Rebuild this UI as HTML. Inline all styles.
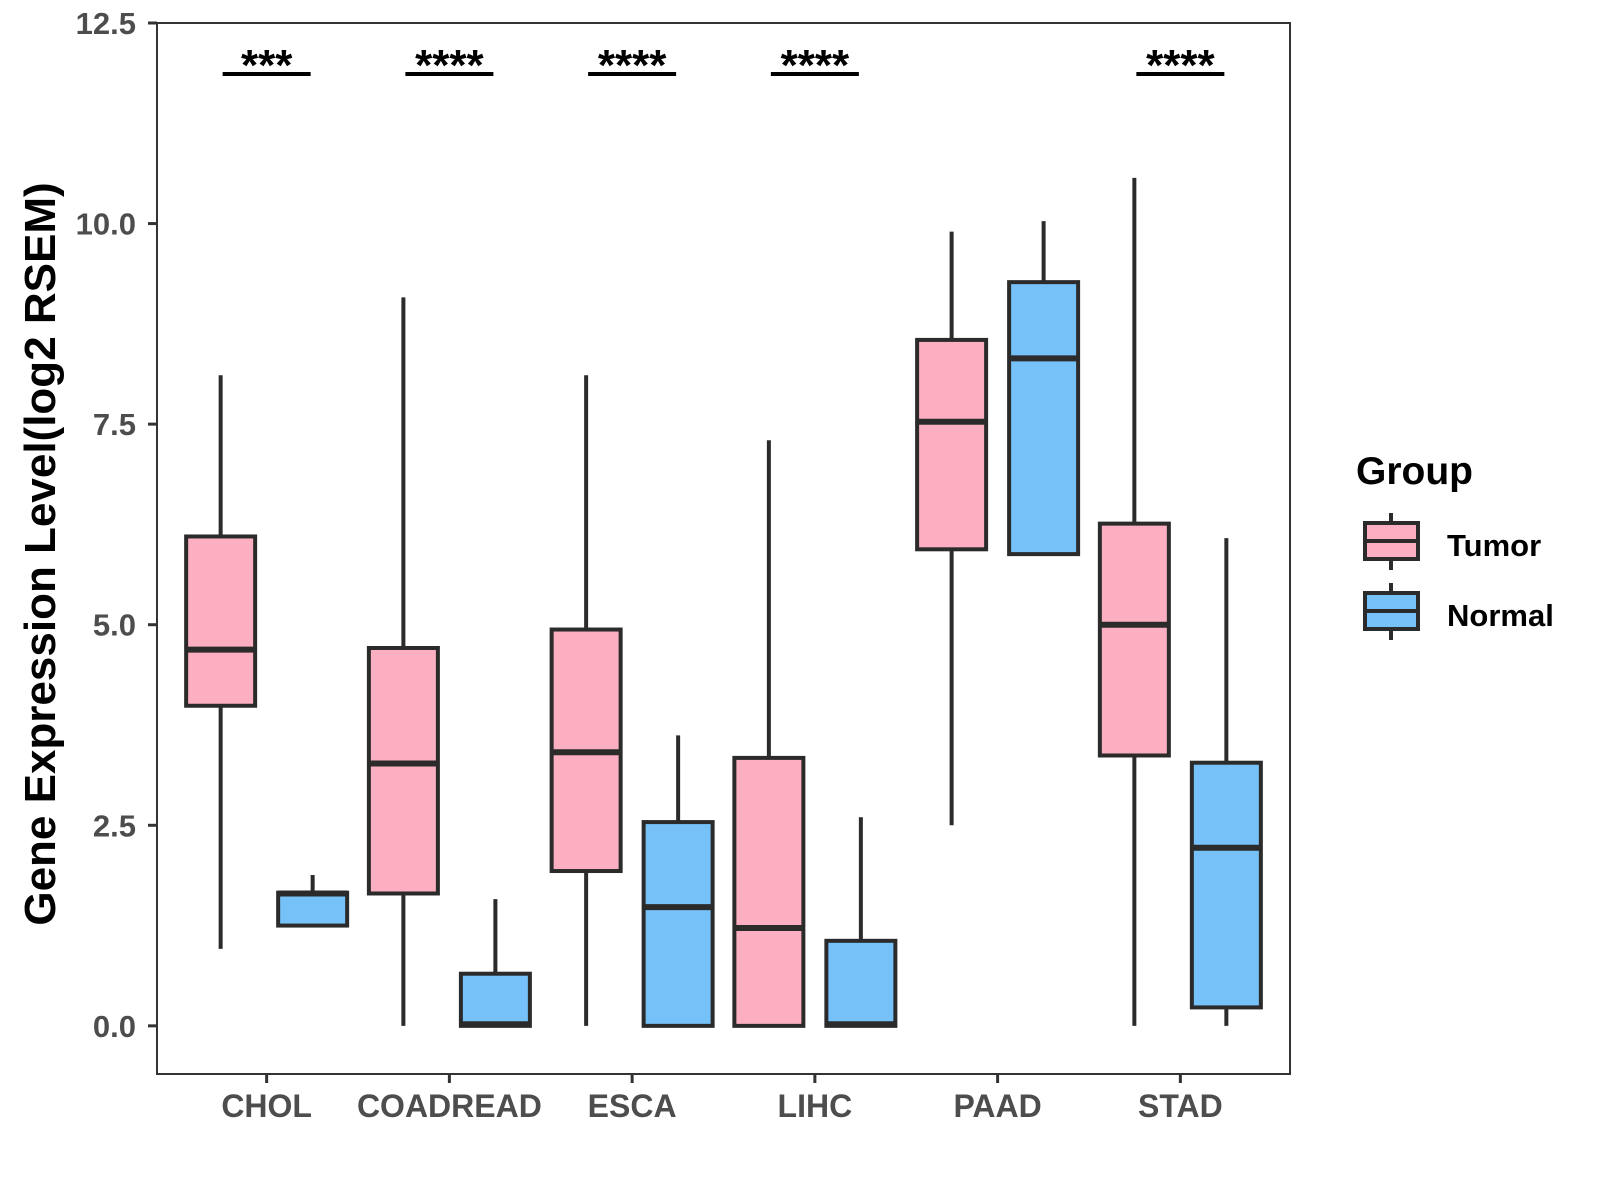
<!DOCTYPE html>
<html><head><meta charset="utf-8"><style>
html,body{margin:0;padding:0;background:#fff;}
svg{display:block;font-family:"Liberation Sans",sans-serif;font-weight:bold;}
</style></head><body>
<svg id="chart" width="1600" height="1200" viewBox="0 0 1600 1200">
<rect x="0" y="0" width="1600" height="1200" fill="#fff"/>
<g id="marks"></g>
<g id="axes"></g>
<g id="legend" transform="translate(-7,0)">
  <text x="1363" y="484" font-size="39" fill="#000">Group</text>
  <g>
    <line x1="1398" y1="513" x2="1398" y2="570" stroke="#2b2b2b" stroke-width="4"/>
    <rect x="1372" y="523" width="53" height="36" fill="#FCAFC0" stroke="#2b2b2b" stroke-width="4"/>
    <line x1="1372" y1="541" x2="1425" y2="541" stroke="#2b2b2b" stroke-width="4"/>
    <text x="1454" y="556" font-size="31" fill="#000">Tumor</text>
  </g>
  <g>
    <line x1="1398" y1="583" x2="1398" y2="640" stroke="#2b2b2b" stroke-width="4"/>
    <rect x="1372" y="593" width="53" height="36" fill="#75C1F8" stroke="#2b2b2b" stroke-width="4"/>
    <line x1="1372" y1="611" x2="1425" y2="611" stroke="#2b2b2b" stroke-width="4"/>
    <text x="1454" y="626" font-size="31" fill="#000">Normal</text>
  </g>
</g>
</svg>
<script>
const categories = ["CHOL","COADREAD","ESCA","LIHC","PAAD","STAD"];
const groups = ["Tumor","Normal"];
const tumorStats = [
  [0.96,3.99,4.69,6.10,8.11],
  [0,1.65,3.27,4.71,9.08],
  [0,1.93,3.41,4.94,8.11],
  [0,0,1.22,3.34,7.30],
  [2.50,5.94,7.53,8.55,9.90],
  [0,3.37,5.00,6.26,10.57]
];
const normalStats = [
  [1.25,1.25,1.65,1.66,1.88],
  [0,0,0.02,0.65,1.58],
  [0,0,1.48,2.54,3.62],
  [0,0,0.02,1.06,2.60],
  [5.88,5.88,8.32,9.27,10.03],
  [0,0.23,2.22,3.28,6.08]
];
const sigLabels = ["***","****","****","****","","****"];
const yTicks = [0,2.5,5,7.5,10,12.5];
const yTickLabels = ["0.0","2.5","5.0","7.5","10.0","12.5"];

const NS="http://www.w3.org/2000/svg";
const L=157,R=1290,T=23,B=1074;
const yMin=-0.6,yMax=12.5;
function y(v){return T+(yMax-v)/(yMax-yMin)*(B-T);}
const step=(R-L)/(categories.length-1+1.2);
function x(i){return L+(0.6+i)*step;}
const dodge=46,bw=69;
function mk(tag,attrs,parent){const e=document.createElementNS(NS,tag);for(const k in attrs)e.setAttribute(k,attrs[k]);parent.appendChild(e);return e;}
const marks=document.getElementById('marks');
const axes=document.getElementById('axes');
const fills=["#FCAFC0","#75C1F8"];
const allStats=[tumorStats,normalStats];
categories.forEach((c,i)=>{
  allStats.forEach((st,g)=>{
    const s=st[i];const cx=x(i)+(g===0?-dodge:dodge);
    const grp=mk('g',{},marks);
    
    
    mk('line',{x1:cx,x2:cx,y1:y(s[4]),y2:y(s[3]),stroke:"#2b2b2b","stroke-width":4},grp);
    mk('line',{x1:cx,x2:cx,y1:y(s[1]),y2:y(s[0]),stroke:"#2b2b2b","stroke-width":4},grp);
    mk('rect',{x:cx-bw/2,y:y(s[3]),width:bw,height:Math.max(0,y(s[1])-y(s[3])),fill:fills[g],stroke:"#2b2b2b","stroke-width":4},grp);
    mk('line',{x1:cx-bw/2,x2:cx+bw/2,y1:y(s[2]),y2:y(s[2]),stroke:"#2b2b2b","stroke-width":6},grp);
  });
  if(sigLabels[i]){
    const sg=mk('g',{},marks);
    
    
    mk('line',{x1:x(i)-44,x2:x(i)+44,y1:74,y2:74,stroke:"#000","stroke-width":4},sg);
    const t=mk('text',{x:x(i),y:80,"text-anchor":"middle","font-size":44,fill:"#000"},sg);
    t.textContent=sigLabels[i];
  }
  const tk=mk('line',{x1:x(i),x2:x(i),y1:B,y2:B+9,stroke:"#333","stroke-width":3},axes);
  
  
  const lb=mk('text',{x:x(i),y:1117,"text-anchor":"middle","font-size":32,fill:"#4d4d4d"},axes);
  
  
  lb.textContent=c;
});
yTicks.forEach((v,k)=>{
  const tk=mk('line',{x1:L-9,x2:L,y1:y(v),y2:y(v),stroke:"#333","stroke-width":3},axes);
  
  
  const lb=mk('text',{x:L-21,y:y(v)+11,"text-anchor":"end","font-size":31,fill:"#4d4d4d"},axes);
  
  
  lb.textContent=yTickLabels[k];
});
const frame=mk('rect',{x:L,y:T,width:R-L,height:B-T,fill:"none",stroke:"#333","stroke-width":2},axes);


const yt=mk('text',{x:0,y:0,"text-anchor":"middle","font-size":44,fill:"#000",transform:"translate(55,554) rotate(-90)"},axes);


yt.textContent="Gene Expression Level(log2 RSEM)";
</script>
</body></html>
